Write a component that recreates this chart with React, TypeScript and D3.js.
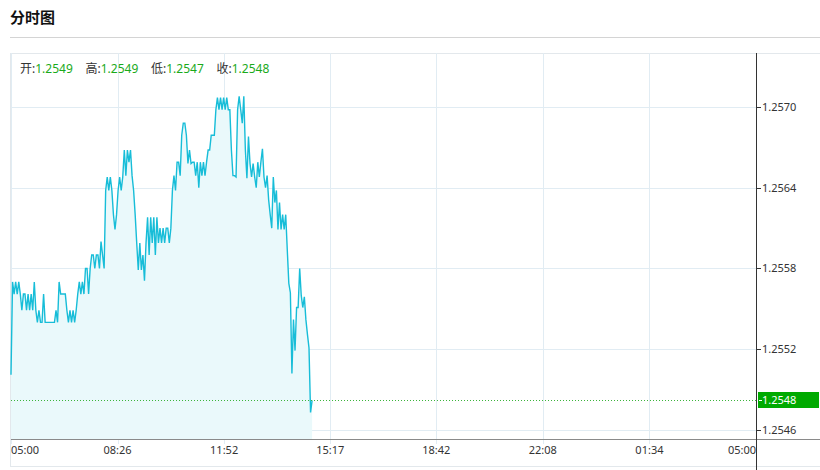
import React from "react";
import * as d3 from "d3";

// ---- data ----
const title = "分时图";
const legendLabels = ["开", "高", "低", "收"];
const legendValues = ["1.2549", "1.2549", "1.2547", "1.2548"];
const xTickMinutes = [0, 206, 412, 617, 822, 1028, 1234, 1440];
const xTickLabels = ["05:00", "08:26", "11:52", "15:17", "18:42", "22:08", "01:34", "05:00"];
const yTickValues = [1.2546, 1.2552, 1.2558, 1.2564, 1.257];
const stepMinutes = 3;
const closePrice = 1.25482;
const closeLabel = "1.2548";
const prices = [
  1.25501, 1.2557, 1.25561, 1.2557, 1.25561, 1.2557, 1.25561, 1.25549, 1.25561, 1.25561,
  1.25549, 1.25561, 1.25549, 1.25561, 1.25549, 1.2557, 1.25549, 1.2554, 1.25549, 1.2554,
  1.2554, 1.25561, 1.2554, 1.2554, 1.2554, 1.2554, 1.2554, 1.2554, 1.2554, 1.25549,
  1.2554, 1.2557, 1.25561, 1.25561, 1.25561, 1.25561, 1.25549, 1.2554, 1.25549, 1.2554,
  1.25549, 1.2554, 1.25549, 1.25561, 1.2557, 1.25561, 1.2557, 1.25561, 1.2558, 1.2558,
  1.25561, 1.2558, 1.2559, 1.2559, 1.2558, 1.2559, 1.2559, 1.2558, 1.256, 1.2559,
  1.2558, 1.25638, 1.25648, 1.25638, 1.25648, 1.25638, 1.2562, 1.25609, 1.2562, 1.25638,
  1.25648, 1.25638, 1.25648, 1.25668, 1.25649, 1.25668, 1.25659, 1.25668, 1.25649, 1.25638,
  1.2562, 1.25599, 1.25579, 1.25599, 1.25579, 1.2559, 1.25571, 1.25599, 1.25618, 1.2559,
  1.25618, 1.25599, 1.25618, 1.2559, 1.25618, 1.25599, 1.2561, 1.25599, 1.2561, 1.25599,
  1.2561, 1.2561, 1.25599, 1.2561, 1.25638, 1.25649, 1.25638, 1.25659, 1.25659, 1.25649,
  1.25679, 1.25688, 1.25688, 1.25679, 1.25658, 1.25668, 1.25658, 1.25659, 1.25659, 1.25649,
  1.25659, 1.2564, 1.25659, 1.25649, 1.25659, 1.25649, 1.25659, 1.25668, 1.25668, 1.25679,
  1.25679, 1.25679, 1.25698, 1.25707, 1.25698, 1.25707, 1.25698, 1.25707, 1.25698, 1.25707,
  1.25698, 1.25698, 1.25668, 1.25649, 1.25649, 1.25648, 1.25698, 1.25708, 1.25698, 1.25688,
  1.25708, 1.25668, 1.25647, 1.25678, 1.25658, 1.25648, 1.25658, 1.25648, 1.2564, 1.25659,
  1.25648, 1.25659, 1.25669, 1.25648, 1.2564, 1.25649, 1.25631, 1.2562, 1.2561, 1.25648,
  1.25629, 1.25638, 1.25609, 1.25629, 1.25609, 1.2562, 1.25609, 1.2562, 1.25594, 1.25569,
  1.25562, 1.25502, 1.25542, 1.25519, 1.25551, 1.25551, 1.2558, 1.2556, 1.25551, 1.25559,
  1.25542, 1.25531, 1.25521, 1.25473, 1.25482,
];

// ---- layout ----
const W = 820;
const H = 470;
const plotL = 11;
const plotR = 756;
const plotT = 53;
const plotB = 439;
const gridColor = "#e1ecf3";
const lineColor = "#17bdd8";
const areaColor = "#eaf9fb";
const green = "#00aa00";
const numFont = '"Noto Sans", "Noto Sans CJK SC", sans-serif';

export default function App() {
  const x = d3.scaleLinear().domain([0, 1440]).range([plotL, plotR]);
  const y = d3.scaleLinear().domain([1.2546, 1.257]).range([430, 107]);

  const pts: [number, number][] = prices.map((p, i) => [x(i * stepMinutes), y(p)]);
  const line = d3.line<[number, number]>().x((d) => d[0]).y((d) => d[1]);
  const area = d3
    .area<[number, number]>()
    .x((d) => d[0])
    .y0(plotB)
    .y1((d) => d[1]);

  const closeY = Math.round(y(closePrice)) + 0.5;

  return (
    <svg
      width={W}
      height={H}
      style={{ position: "absolute", left: 0, top: 0, background: "#fff" }}
    >
      {/* title */}
      <text
        x={10}
        y={23}
        fontSize={15}
        fontWeight="bold"
        fontFamily='"Noto Sans CJK SC", sans-serif'
        fill="#111"
      >
        {title}
      </text>
      <line x1={10} x2={820} y1={37.5} y2={37.5} stroke="#d4d4d4" />

      {/* chart frame */}
      <line x1={10} x2={820} y1={53.5} y2={53.5} stroke="#e3e8ec" />
      <line x1={10.5} x2={10.5} y1={53} y2={466} stroke="#e3e8ec" />
      <line x1={10} x2={820} y1={466.5} y2={466.5} stroke="#e3e8ec" />

      {/* horizontal grid */}
      {yTickValues.map((v) => (
        <line
          key={"hg" + v}
          x1={plotL}
          x2={plotR}
          y1={Math.round(y(v)) + 0.5}
          y2={Math.round(y(v)) + 0.5}
          stroke={gridColor}
        />
      ))}
      {/* vertical grid */}
      {xTickMinutes.map((m, i) => (
        <line
          key={"vg" + i}
          x1={Math.round(x(m)) + 0.5}
          x2={Math.round(x(m)) + 0.5}
          y1={plotT}
          y2={plotB + 5}
          stroke={gridColor}
        />
      ))}

      {/* area + line */}
      <path d={area(pts) || ""} fill={areaColor} />
      <path d={line(pts) || ""} fill="none" stroke={lineColor} strokeWidth={1.4} />

      {/* close line */}
      <line
        x1={plotL}
        x2={plotR}
        y1={closeY}
        y2={closeY}
        stroke="#3cb43c"
        strokeDasharray="1,2"
      />

      {/* legend */}
      {legendLabels.map((l, i) => (
        <text
          key={"lg" + i}
          x={20 + i * 65.5}
          y={73}
          fontSize={12}
          fontFamily={numFont}
        >
          <tspan fill="#333">{l}:</tspan>
          <tspan fill="#1aaa1a">{legendValues[i]}</tspan>
        </text>
      ))}

      {/* axes */}
      <line x1={plotL} x2={820} y1={plotB + 0.5} y2={plotB + 0.5} stroke="#8a8a8a" />
      <line x1={plotR + 0.5} x2={plotR + 0.5} y1={plotT} y2={470} stroke="#333" />

      {/* y ticks */}
      {yTickValues.map((v) => {
        const yy = Math.round(y(v)) + 0.5;
        return (
          <g key={"yt" + v}>
            <line x1={plotR} x2={plotR + 5} y1={yy} y2={yy} stroke="#333" />
            <text
              x={plotR + 6}
              y={yy}
              dy="0.35em"
              fontSize={11}
              fontFamily={numFont}
              fill="#333"
            >
              {v.toFixed(4)}
            </text>
          </g>
        );
      })}

      {/* close tag */}
      <rect x={758} y={closeY - 8.5} width={61} height={16} fill={green} />
      <line x1={759} x2={762} y1={closeY} y2={closeY} stroke="#fff" />
      <text
        x={plotR + 6}
        y={closeY}
        dy="0.35em"
        fontSize={11}
        fontFamily={numFont}
        fill="#fff"
      >
        {closeLabel}
      </text>

      {/* x tick labels */}
      {xTickMinutes.map((m, i) => {
        const anchor = i === 0 ? "start" : i === xTickMinutes.length - 1 ? "end" : "middle";
        return (
          <text
            key={"xt" + i}
            x={x(m)}
            y={454}
            fontSize={11}
            fontFamily={numFont}
            fill="#333"
            textAnchor={anchor}
          >
            {xTickLabels[i]}
          </text>
        );
      })}
    </svg>
  );
}
